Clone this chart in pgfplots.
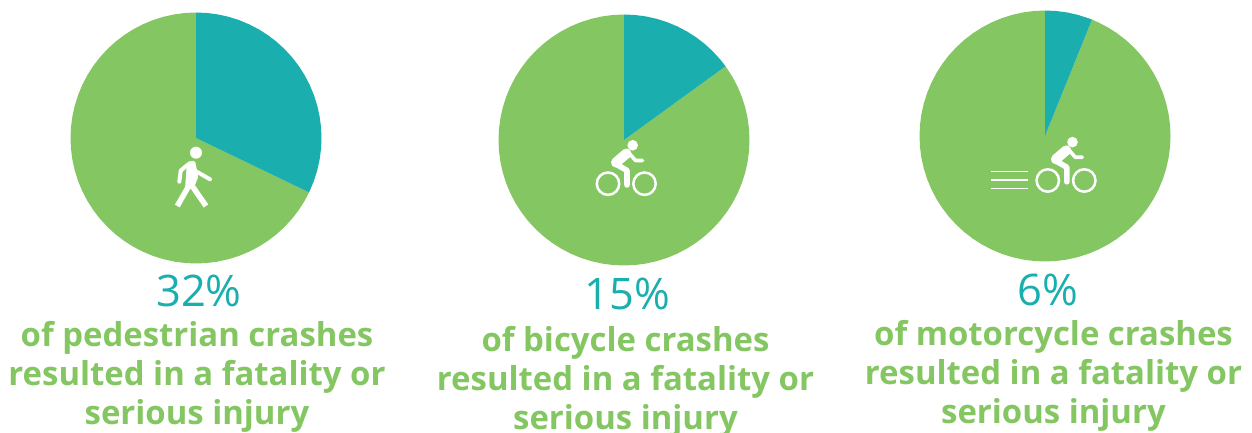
\documentclass[border=0pt]{standalone}
\usepackage{fontspec}
\setmainfont{Open Sans}
\usepackage{pgfplots}
\usepgfplotslibrary{polar}
\pgfplotsset{compat=1.18}
\definecolor{pgreen}{RGB}{132,198,97}
\definecolor{pteal}{RGB}{27,174,174}
\pgfplotsset{pie/.style={hide axis, scale only axis,
  width=251pt, height=251pt, xmin=0, xmax=360, ymin=0, ymax=1, clip=false, anchor=center}}
\tikzset{bikeicon/.pic={
  \fill[white] (632.7,145.3) circle (5.3);
  \draw[white,line width=2.5] (608,183.7) circle (11.2);
  \draw[white,line width=2.5] (644.5,183.7) circle (11.2);
  \draw[white,line width=10,line cap=round] (616,162.5) -- (626.5,153.5);
  \draw[white,line width=5.6,line cap=round,line join=round] (615,163.5) -- (627,170.5) -- (627,185);
  \draw[white,line width=3.6,line cap=round,line join=round] (629,153) -- (635.5,160.5) -- (642.5,160.5);
}}
\begin{document}
\begin{tikzpicture}[x=1pt,y=1pt]
\clip (0,0) rectangle (1252,433);
\path (0,0) rectangle (1252,433);
% Pie 1: 32%
\begin{polaraxis}[pie, at={(196pt,295pt)}]
\addplot[fill=pgreen,draw=none] coordinates {(0,0) (-25.7,1) (-30,1) (-35,1) (-40,1) (-45,1) (-50,1) (-55,1) (-60,1) (-65,1) (-70,1) (-75,1) (-80,1) (-85,1) (-90,1) (-95,1) (-100,1) (-105,1) (-110,1) (-115,1) (-120,1) (-125,1) (-130,1) (-135,1) (-140,1) (-145,1) (-150,1) (-155,1) (-160,1) (-165,1) (-170,1) (-175,1) (-180,1) (-185,1) (-190,1) (-195,1) (-200,1) (-205,1) (-210,1) (-215,1) (-220,1) (-225,1) (-230,1) (-235,1) (-240,1) (-245,1) (-250,1) (-255,1) (-260,1) (-265,1) (-270,1)} -- cycle;
\addplot[fill=pteal,draw=none] coordinates {(0,0) (90,1) (85,1) (80,1) (75,1) (70,1) (65,1) (60,1) (55,1) (50,1) (45,1) (40,1) (35,1) (30,1) (25,1) (20,1) (15,1) (10,1) (5,1) (0,1) (-5,1) (-10,1) (-15,1) (-20,1) (-25.7,1)} -- cycle;
\end{polaraxis}
% Pie 2: 15%
\begin{polaraxis}[pie, at={(624pt,293pt)}]
\addplot[fill=pgreen,draw=none] coordinates {(0,0) (36,1) (30,1) (25,1) (20,1) (15,1) (10,1) (5,1) (0,1) (-5,1) (-10,1) (-15,1) (-20,1) (-25,1) (-30,1) (-35,1) (-40,1) (-45,1) (-50,1) (-55,1) (-60,1) (-65,1) (-70,1) (-75,1) (-80,1) (-85,1) (-90,1) (-95,1) (-100,1) (-105,1) (-110,1) (-115,1) (-120,1) (-125,1) (-130,1) (-135,1) (-140,1) (-145,1) (-150,1) (-155,1) (-160,1) (-165,1) (-170,1) (-175,1) (-180,1) (-185,1) (-190,1) (-195,1) (-200,1) (-205,1) (-210,1) (-215,1) (-220,1) (-225,1) (-230,1) (-235,1) (-240,1) (-245,1) (-250,1) (-255,1) (-260,1) (-265,1) (-270,1)} -- cycle;
\addplot[fill=pteal,draw=none] coordinates {(0,0) (90,1) (85,1) (80,1) (75,1) (70,1) (65,1) (60,1) (55,1) (50,1) (45,1) (40,1) (36,1)} -- cycle;
\end{polaraxis}
% Pie 3: 6%
\begin{polaraxis}[pie, at={(1045pt,297pt)}]
\addplot[fill=pgreen,draw=none] coordinates {(0,0) (68,1) (65,1) (60,1) (55,1) (50,1) (45,1) (40,1) (35,1) (30,1) (25,1) (20,1) (15,1) (10,1) (5,1) (0,1) (-5,1) (-10,1) (-15,1) (-20,1) (-25,1) (-30,1) (-35,1) (-40,1) (-45,1) (-50,1) (-55,1) (-60,1) (-65,1) (-70,1) (-75,1) (-80,1) (-85,1) (-90,1) (-95,1) (-100,1) (-105,1) (-110,1) (-115,1) (-120,1) (-125,1) (-130,1) (-135,1) (-140,1) (-145,1) (-150,1) (-155,1) (-160,1) (-165,1) (-170,1) (-175,1) (-180,1) (-185,1) (-190,1) (-195,1) (-200,1) (-205,1) (-210,1) (-215,1) (-220,1) (-225,1) (-230,1) (-235,1) (-240,1) (-245,1) (-250,1) (-255,1) (-260,1) (-265,1) (-270,1)} -- cycle;
\addplot[fill=pteal,draw=none] coordinates {(0,0) (90,1) (85,1) (80,1) (75,1) (70,1) (68,1)} -- cycle;
\end{polaraxis}
% Icons, in the reference's pixel coordinates
\begin{scope}[shift={(0,433)},y=-1pt]
  % pedestrian
  \fill[white] (196,152.7) circle (6);
  \fill[white,rounded corners=1.5] (187,161.7) -- (195,160.7) -- (198.3,176.7) -- (193.5,189) -- (185,189) -- cycle;
  \draw[white,line width=4,line cap=round,line join=round] (187.3,165) -- (180.7,170.7) -- (179.3,181.7);
  \draw[white,line width=4,line cap=round] (196.7,171.7) -- (210,179.3);
  \draw[white,line width=5.5] (188.3,186.7) -- (177.3,206);
  \draw[white,line width=5.5] (192.7,186.7) -- (206,206);
  % bicycle
  \pic at (0,0) {bikeicon};
  % motorcycle with speed lines
  \pic at (439.8,-3.2) {bikeicon};
  \draw[white,line width=1.4] (991,171.7) -- (1027.7,171.7);
  \draw[white,line width=1.4] (991,180) -- (1027.7,180);
  \draw[white,line width=1.4] (991,188.3) -- (1027.7,188.3);
\end{scope}
% Text
\newcommand{\pct}[3]{\node[anchor=base,text=pteal,inner sep=0pt,font=\fontsize{43.5}{43.5}\selectfont] at (#1,433-#2) {#3};}
\newcommand{\lin}[3]{\node[anchor=base,text=pgreen,inner sep=0pt,font=\fontsize{32.9}{32.9}\selectfont\bfseries] at (#1,433-#2) {#3};}
\pct{199}{307}{32\%}
\lin{197}{347}{of pedestrian crashes}
\lin{197}{386}{resulted in a fatality or}
\lin{197}{425}{serious injury}
\pct{627.5}{309.5}{15\%}
\lin{625.5}{352}{of bicycle crashes}
\lin{625.5}{391}{resulted in a fatality or}
\lin{625.5}{430}{serious injury}
\pct{1048}{306}{6\%}
\lin{1053.5}{346}{of motorcycle crashes}
\lin{1053.5}{385}{resulted in a fatality or}
\lin{1053.5}{424}{serious injury}
\end{tikzpicture}
\end{document}
